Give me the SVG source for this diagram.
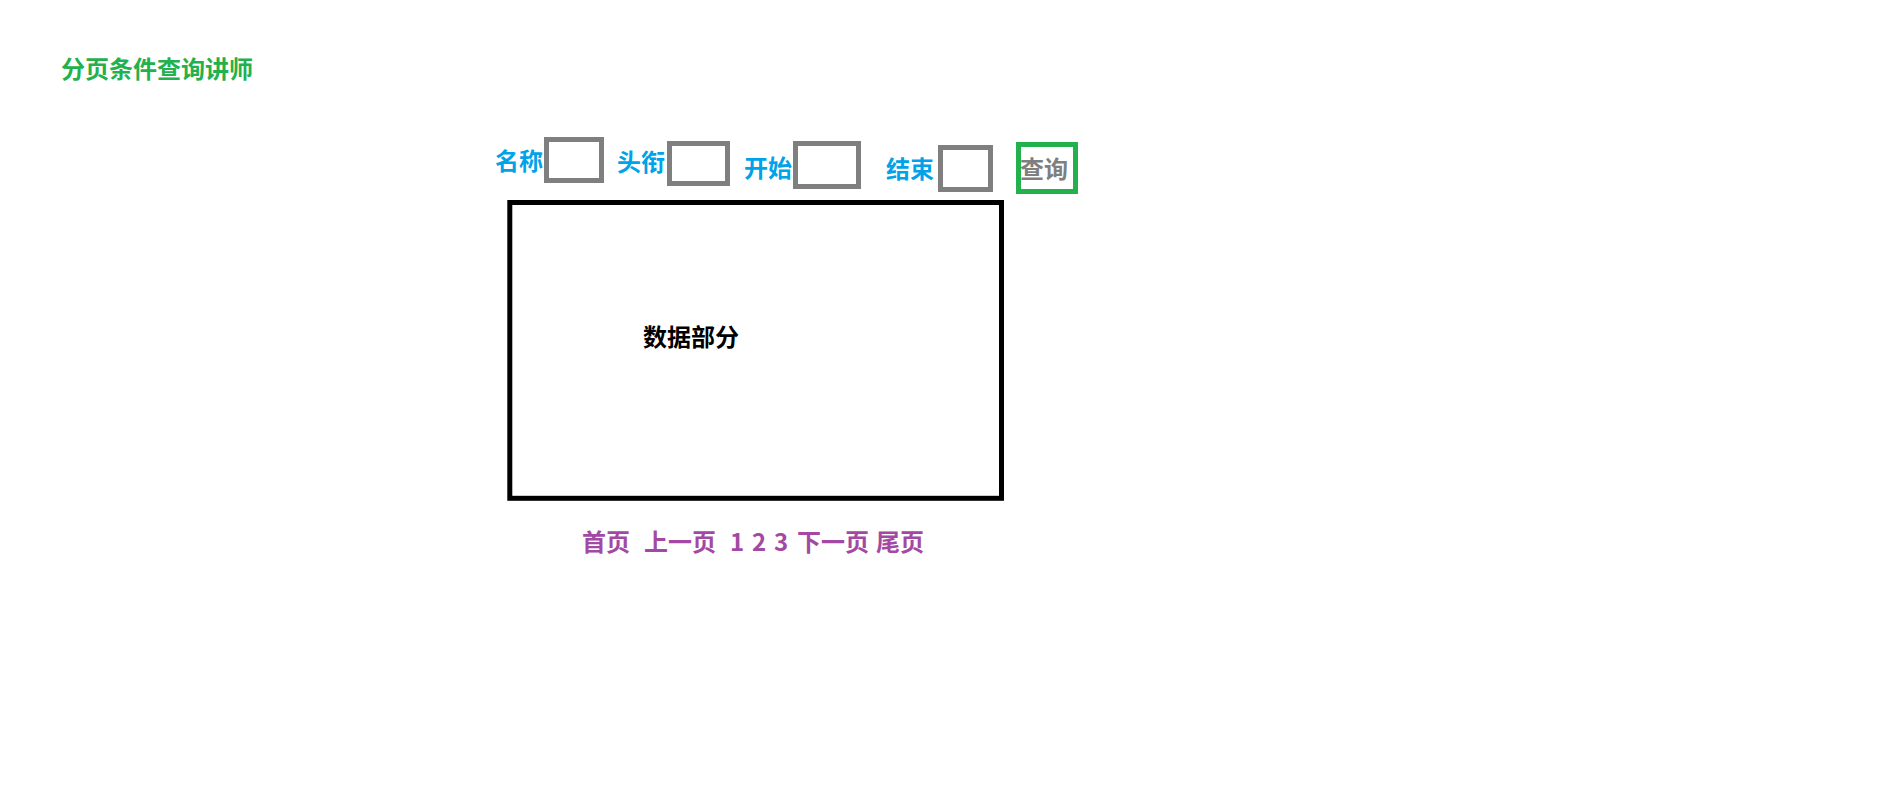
<svg xmlns="http://www.w3.org/2000/svg" width="1904" height="785" viewBox="0 0 1904 785">
<style>
text { font-family: "Microsoft YaHei", "Noto Sans CJK SC", "Noto Sans", sans-serif; font-weight: bold; font-size: 24px; }
.title { fill: #22b14c; }
.label { fill: #00a2e8; }
.input { fill: #ffffff; stroke: #7f7f7f; stroke-width: 5; }
.btn { fill: #ffffff; stroke: #22b14c; stroke-width: 5; }
.btntext { fill: #7f7f7f; }
.data { fill: #ffffff; stroke: #000000; stroke-width: 5; }
.datatext { fill: #000000; }
.pager { fill: #a349a4; }
</style>
<rect x="0" y="0" width="1904" height="785" fill="#ffffff"/>
<g id="title"><text class="title" x="61" y="78">分页条件查询讲师</text></g>
<g id="name-field">
<text class="label" x="495" y="170">名称</text>
<rect class="input" x="546.5" y="139.5" width="55" height="41"/>
</g>
<g id="title-field">
<text class="label" x="617" y="170.5">头衔</text>
<rect class="input" x="669.5" y="143.5" width="58" height="40"/>
</g>
<g id="start-field">
<text class="label" x="744" y="176.5">开始</text>
<rect class="input" x="795.5" y="143.5" width="63" height="43"/>
</g>
<g id="end-field">
<text class="label" x="886" y="178">结束</text>
<rect class="input" x="940.5" y="147.5" width="50" height="42"/>
</g>
<g id="query-button">
<rect class="btn" x="1018.5" y="144.5" width="57" height="47"/>
<text class="btntext" x="1020" y="178">查询</text>
</g>
<g id="data-area">
<rect class="data" x="509.8" y="202.5" width="491.7" height="295.8"/>
<text class="datatext" x="643" y="345.5">数据部分</text>
</g>
<g id="pager">
<text class="pager" y="551"><tspan x="582">首页</tspan><tspan x="644">上一页</tspan><tspan x="730">1</tspan><tspan x="752">2</tspan><tspan x="774">3</tspan><tspan x="797">下一页</tspan><tspan x="876">尾页</tspan></text>
</g>
<g id="connectors"/>
</svg>
